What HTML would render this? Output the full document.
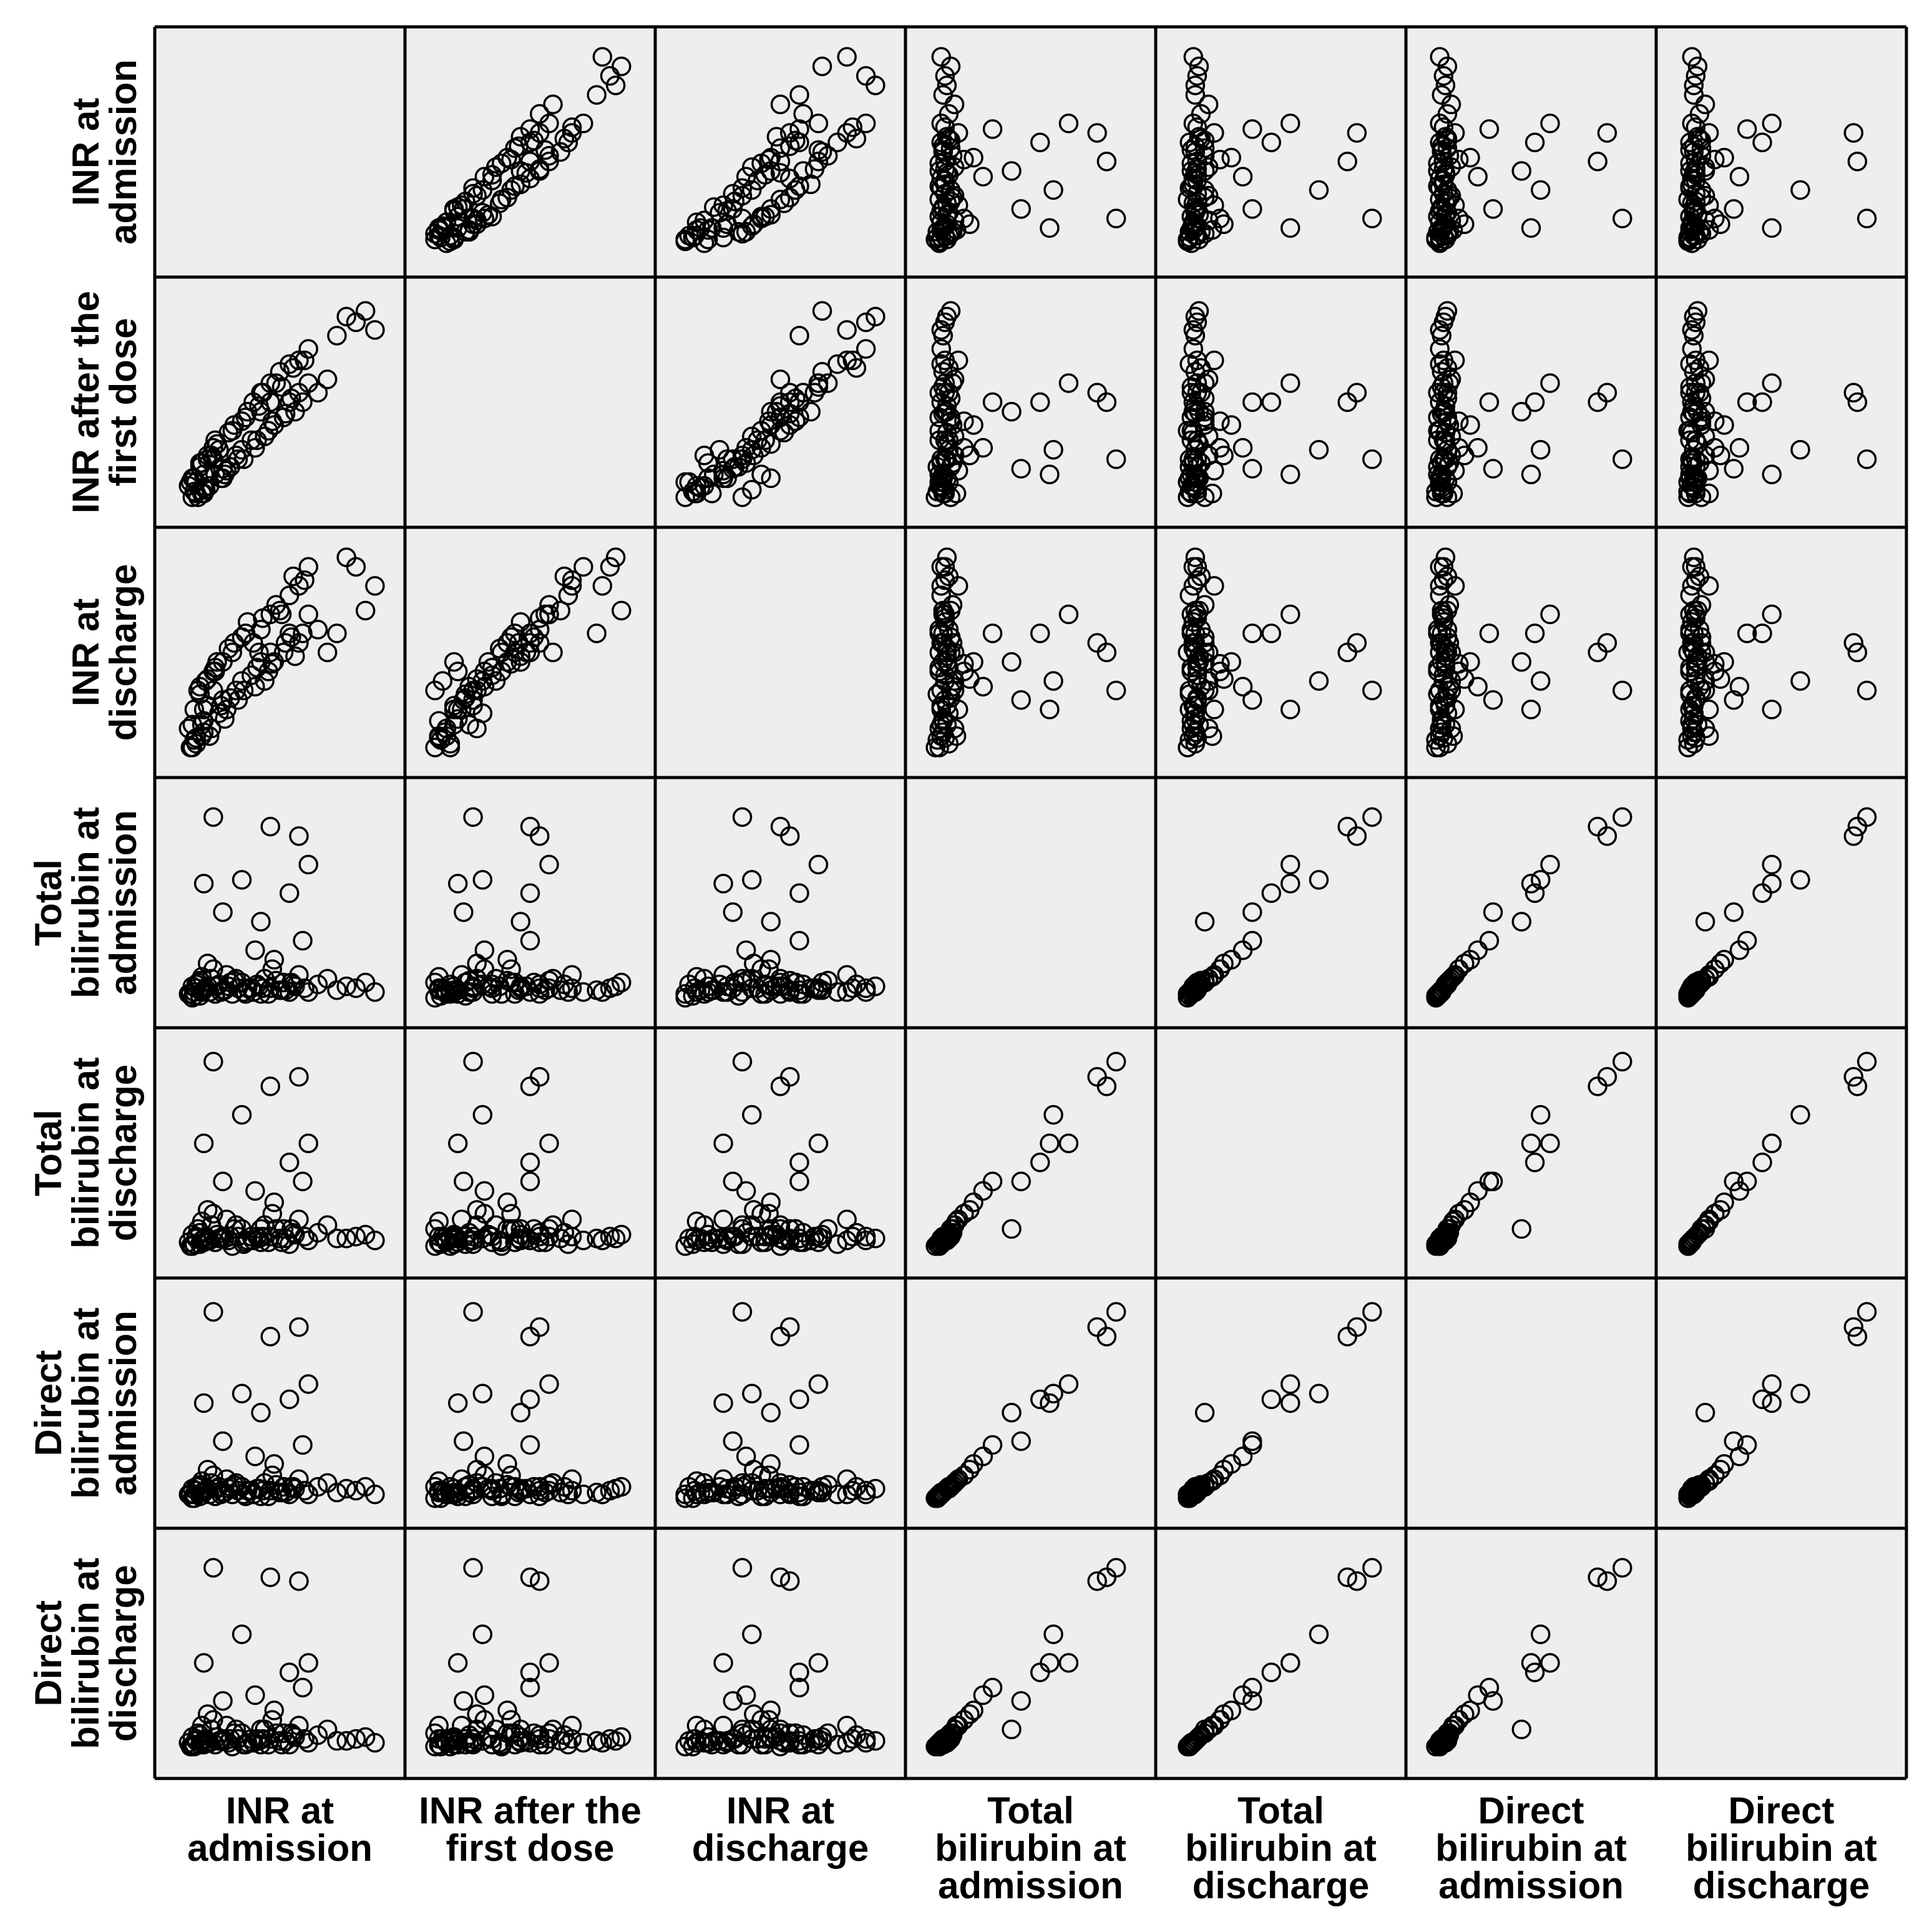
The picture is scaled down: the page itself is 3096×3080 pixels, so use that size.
<!DOCTYPE html>
<html><head><meta charset="utf-8"><style>
html,body{margin:0;padding:0;background:#fff;}
svg{display:block;}
text{font-family:"Liberation Sans",Arial,sans-serif;font-weight:bold;fill:#000;}
</style></head>
<body>
<svg id="chart" width="3096" height="3080" viewBox="0 0 3096 3080" xmlns="http://www.w3.org/2000/svg"></svg>
<script>
const varLabels = [
 ["INR at","admission"],
 ["INR after the","first dose"],
 ["INR at","discharge"],
 ["Total","bilirubin at","admission"],
 ["Total","bilirubin at","discharge"],
 ["Direct","bilirubin at","admission"],
 ["Direct","bilirubin at","discharge"]
];
const inrAdmission = [0.02,0.04,0.05,0.06,0.08,0.1,0.12,0.03,0.07,0.09,0.11,0.14,0.16,0.18,0.2,0.05,0.08,0.13,0.17,0.22,0.25,0.28,0.3,0.1,0.15,0.19,0.23,0.27,0.32,0.35,0.06,0.12,0.21,0.26,0.31,0.04,0.09,0.16,0.24,0.33,
 0.36,0.38,0.4,0.42,0.45,0.47,0.5,0.52,0.55,0.58,0.6,0.37,0.41,0.44,0.48,0.53,0.57,0.62,0.65,0.39,0.46,0.51,0.56,0.63,0.7,
 0.9,0.95,1.0,0.85,0.75,0.8,
 0.1,0.3,0.55,0.15,0.6,0.65,0.2,0.45,0.4];
const inrFirstDose = [0.06,0.0,0.1,0.02,0.16,0.05,0.2,0.08,0.0,0.18,0.04,0.22,0.12,0.25,0.1,0.03,0.18,0.06,0.28,0.14,0.35,0.2,0.4,0.02,0.26,0.1,0.34,0.22,0.42,0.3,0.08,0.22,0.12,0.38,0.2,0.1,0.02,0.3,0.16,0.45,
 0.5,0.3,0.55,0.32,0.6,0.38,0.66,0.42,0.7,0.45,0.72,0.26,0.55,0.35,0.6,0.44,0.68,0.5,0.78,0.48,0.4,0.58,0.52,0.72,0.55,
 0.92,0.98,0.88,0.95,0.62,0.85,
 0.12,0.25,0.5,0.2,0.55,0.6,0.15,0.5,0.45];
const inrDischarge = [0.1,0.0,0.2,0.05,0.28,0.08,0.22,0.0,0.3,0.12,0.35,0.1,0.4,0.18,0.45,0.04,0.32,0.06,0.45,0.2,0.5,0.25,0.58,0.14,0.4,0.22,0.52,0.3,0.6,0.38,0.02,0.36,0.15,0.55,0.3,0.12,0.06,0.42,0.26,0.66,
 0.55,0.42,0.62,0.35,0.7,0.45,0.72,0.5,0.8,0.48,0.85,0.32,0.68,0.4,0.75,0.55,0.9,0.6,0.95,0.5,0.44,0.7,0.58,0.88,0.62,
 0.95,0.72,0.85,1.0,0.5,0.6,
 0.2,0.35,0.6,0.3,0.55,0.7,0.25,0.5,0.45];
const totalBiliAdmission = [0.02,0.0,0.03,0.05,0.01,0.04,0.06,0.02,0.08,0.03,0.05,0.1,0.02,0.07,0.04,0.01,0.09,0.03,0.06,0.12,0.02,0.05,0.08,0.04,0.15,0.03,0.06,0.1,0.02,0.05,0.07,0.18,0.04,0.09,0.03,0.06,0.11,0.02,0.08,0.05,
 0.03,0.07,0.02,0.1,0.05,0.2,0.04,0.08,0.03,0.06,0.12,0.25,0.05,0.02,0.09,0.04,0.07,0.3,0.03,0.06,0.15,0.04,0.08,0.05,0.07,
 0.05,0.08,0.03,0.06,0.1,0.04,
 0.6,0.62,0.55,0.95,0.85,0.7,0.45,0.9,0.4];
const totalBiliDischarge = [0.03,0.01,0.02,0.06,0.02,0.05,0.04,0.01,0.1,0.04,0.06,0.12,0.03,0.05,0.06,0.02,0.08,0.04,0.07,0.15,0.01,0.06,0.1,0.03,0.18,0.05,0.04,0.12,0.03,0.06,0.05,0.2,0.05,0.1,0.02,0.07,0.14,0.03,0.06,0.04,
 0.04,0.06,0.03,0.12,0.06,0.24,0.05,0.1,0.02,0.07,0.15,0.3,0.06,0.03,0.1,0.05,0.08,0.35,0.04,0.05,0.18,0.03,0.1,0.06,0.08,
 0.06,0.07,0.04,0.05,0.12,0.05,
 0.55,0.7,0.45,0.98,0.9,0.55,0.35,0.85,0.1];
const directBiliAdmission = [0.02,0.0,0.02,0.04,0.01,0.03,0.05,0.02,0.06,0.03,0.04,0.08,0.01,0.06,0.03,0.0,0.07,0.02,0.05,0.1,0.02,0.04,0.06,0.03,0.12,0.02,0.05,0.08,0.01,0.04,0.06,0.15,0.03,0.07,0.02,0.05,0.09,0.01,0.06,0.04,
 0.02,0.05,0.01,0.08,0.04,0.18,0.03,0.06,0.02,0.05,0.1,0.22,0.04,0.01,0.07,0.03,0.06,0.28,0.02,0.05,0.12,0.03,0.06,0.04,0.06,
 0.04,0.06,0.02,0.05,0.08,0.03,
 0.5,0.55,0.52,0.98,0.9,0.6,0.3,0.85,0.45];
const directBiliDischarge = [0.03,0.01,0.02,0.05,0.02,0.04,0.03,0.01,0.08,0.03,0.05,0.1,0.02,0.04,0.05,0.01,0.07,0.03,0.06,0.12,0.01,0.05,0.08,0.02,0.15,0.04,0.03,0.1,0.02,0.05,0.04,0.18,0.04,0.08,0.02,0.06,0.12,0.02,0.05,0.03,
 0.03,0.05,0.02,0.1,0.05,0.2,0.04,0.08,0.02,0.06,0.12,0.28,0.05,0.02,0.08,0.04,0.07,0.32,0.03,0.04,0.15,0.02,0.08,0.05,0.07,
 0.05,0.06,0.03,0.04,0.1,0.04,
 0.45,0.6,0.4,0.95,0.88,0.45,0.25,0.9,0.1];
const variables = [inrAdmission,inrFirstDose,inrDischarge,totalBiliAdmission,totalBiliDischarge,directBiliAdmission,directBiliDischarge];

const NS="http://www.w3.org/2000/svg";
const svg=document.getElementById('chart');
const X0=248,Y0=43,CELL=401,N=7;
function mk(tag,attrs,parent){const e=document.createElementNS(NS,tag);for(const k in attrs)e.setAttribute(k,attrs[k]);(parent||svg).appendChild(e);return e;}
function xScale(col,v){return X0+col*CELL+CELL*(0.12+0.76*v);}
function yScale(row,v){return Y0+row*CELL+CELL*(0.88-0.76*v);}

for(let r=0;r<N;r++){
 for(let c=0;c<N;c++){
  const g=mk('g',{});
  
  
  const bg=mk('rect',{x:X0+c*CELL,y:Y0+r*CELL,width:CELL,height:CELL,fill:'#eeeeee'},g);
  
  
  if(r===c)continue;
  const xs=variables[c],ys=variables[r];
  for(let i=0;i<xs.length;i++){
   const p=mk('circle',{cx:xScale(c,xs[i]),cy:yScale(r,ys[i]),r:14,fill:'none',stroke:'#000','stroke-width':3.5},g);
   
   
  }
 }
}
for(let k=0;k<=N;k++){
 const vl=mk('line',{x1:X0+k*CELL,y1:Y0,x2:X0+k*CELL,y2:Y0+N*CELL,stroke:'#000','stroke-width':5});
 
 
 const hl=mk('line',{x1:X0,y1:Y0+k*CELL,x2:X0+N*CELL,y2:Y0+k*CELL,stroke:'#000','stroke-width':5});
 
 
}
for(let c=0;c<N;c++){
 const t=mk('text',{'text-anchor':'middle','font-size':60});
 
 
 const cx=X0+c*CELL+CELL/2;
 varLabels[c].forEach((ln,i)=>{const s=mk('tspan',{x:cx,y:2922+i*60},t);s.textContent=ln;});
}
for(let r=0;r<N;r++){
 const cy=Y0+r*CELL+CELL/2;
 const lines=varLabels[r];
 const t=mk('text',{'text-anchor':'middle','font-size':60,transform:'rotate(-90 0 0)'});
 
 
 lines.forEach((ln,i)=>{
  const yb=218-(lines.length-1-i)*60;
  const s=mk('tspan',{x:-cy,y:yb},t);s.textContent=ln;
 });
}
</script>
</body></html>
